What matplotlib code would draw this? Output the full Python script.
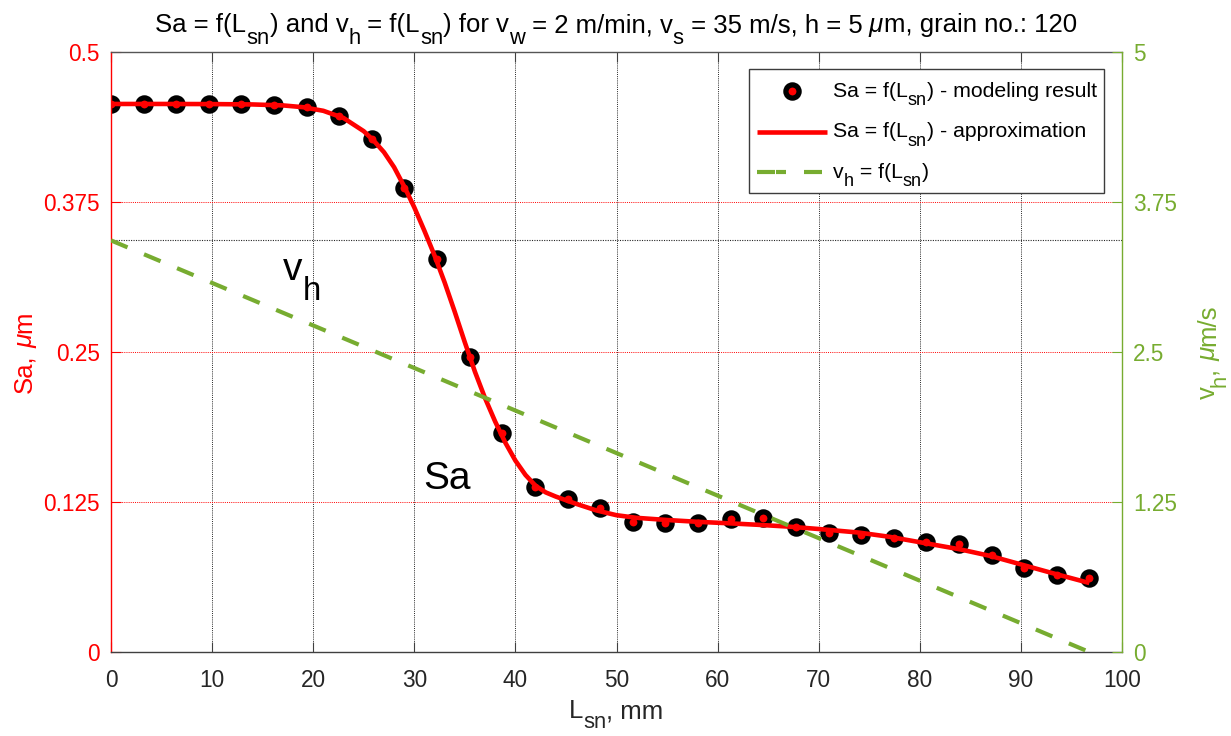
import matplotlib
matplotlib.use("Agg")
import matplotlib.pyplot as plt
from matplotlib.lines import Line2D
from matplotlib.patches import Rectangle
from matplotlib.transforms import IdentityTransform, blended_transform_factory

# ---------------- data ----------------
# modeling results: surface roughness Sa vs. wheel path length L_sn
L_points = [0.0, 3.23, 6.45, 9.68, 12.9, 16.13, 19.35, 22.58, 25.81, 29.03,
            32.26, 35.48, 38.71, 41.94, 45.16, 48.39, 51.61, 54.84, 58.06,
            61.29, 64.52, 67.74, 70.97, 74.19, 77.42, 80.65, 83.87, 87.1,
            90.32, 93.55, 96.77]
Sa_points = [0.4567, 0.4567, 0.4567, 0.4567, 0.4567, 0.4558, 0.4539, 0.4467,
             0.4272, 0.3864, 0.3272, 0.2461, 0.1822, 0.1372, 0.1275, 0.1200,
             0.1086, 0.1078, 0.1072, 0.1108, 0.1114, 0.1039, 0.0994, 0.0975,
             0.0947, 0.0914, 0.0897, 0.0808, 0.0703, 0.0642, 0.0619]

# approximating curve of Sa
L_fit = [0, 5, 10, 14, 17, 19, 21, 23, 25, 26, 27, 28, 29, 30, 31, 32, 33, 34,
         35, 36, 37, 38, 39, 40, 41, 42, 43, 44, 45, 46, 48, 50, 52, 55, 58,
         61, 64, 67, 70, 74, 77, 80, 84, 87, 90, 93, 96.77]
Sa_fit = [0.4567, 0.4567, 0.4566, 0.4563, 0.4555, 0.4540, 0.4510, 0.4450,
          0.4340, 0.4260, 0.4165, 0.4040, 0.3880, 0.3705, 0.3510, 0.3305,
          0.3080, 0.2835, 0.2580, 0.2335, 0.2115, 0.1920, 0.1745, 0.1595,
          0.1475, 0.1385, 0.1330, 0.1295, 0.1265, 0.1235, 0.1180, 0.1140,
          0.1118, 0.1100, 0.1085, 0.1073, 0.1060, 0.1045, 0.1025, 0.0995,
          0.0960, 0.0915, 0.0855, 0.0800, 0.0730, 0.0660, 0.0575]

# feed speed v_h vs. L_sn
L_vh = [0.0, 96.77]
vh = [3.43, 0.0]

x_ticks = [0, 10, 20, 30, 40, 50, 60, 70, 80, 90, 100]
sa_ticks = [0, 0.125, 0.25, 0.375, 0.5]
sa_ticklabels = ["0", "0.125", "0.25", "0.375", "0.5"]
vh_ticks = [0, 1.25, 2.5, 3.75, 5]
vh_ticklabels = ["0", "1.25", "2.5", "3.75", "5"]

# ---------------- style ----------------
FONT = "Liberation Sans"
RED = "#FF0000"
GREEN = "#77AC30"
DARK = "#262626"
SUB_SCALE = 0.85
SUB_DROP = 0.46
TICK_FS = 16.3
LABEL_FS = 18.5
LEGEND_FS = 15.3
NOTE_FS = 28

W, H = 1231, 736
fig = plt.figure(figsize=(W / 100, H / 100), dpi=100)
plt.rcParams["font.family"] = FONT

ax = fig.add_axes([111 / W, (H - 652) / H, (1122 - 111) / W, 600 / H])
ax2 = ax.twinx()

ax.set_xlim(0, 100)
ax.set_ylim(0, 0.5)
ax2.set_ylim(0, 5)

# grid
ax.set_xticks(x_ticks)
ax.set_yticks(sa_ticks)
ax.set_yticklabels(sa_ticklabels)
ax2.set_yticks(vh_ticks)
ax2.set_yticklabels(vh_ticklabels)
ax.grid(axis="x", color=DARK, linestyle=(0, (1, 1.2)), linewidth=0.7)
ax.grid(axis="y", color=RED, linestyle=(0, (1, 1.2)), linewidth=0.7)
ax.set_axisbelow(True)
ref_tr = blended_transform_factory(ax.transAxes, ax2.transData)
ax.plot([0, 1], [vh[0], vh[0]], transform=ref_tr, color=DARK,
        linestyle=(0, (1, 1.2)), linewidth=0.8, zorder=1)

# data
MARKER = dict(linestyle="none", marker="o", markersize=9.5,
              markeredgewidth=3.8, markeredgecolor="black",
              markerfacecolor=RED)
ax.plot(L_points, Sa_points, zorder=2, **MARKER)
ax.plot(L_fit, Sa_fit, color=RED, linewidth=3.3, zorder=3,
        solid_capstyle="butt")
ax2.plot(L_vh, vh, color=GREEN, linewidth=3, linestyle=(0, (4.3, 4.3)),
         dash_capstyle="butt")

# spines and ticks
for s in ("left", "top", "bottom"):
    ax2.spines[s].set_visible(False)
ax.spines["right"].set_visible(False)
ax.spines["left"].set_color(RED)
ax.spines["top"].set_color("#555555")
ax.spines["bottom"].set_color("#404040")
ax2.spines["right"].set_color(GREEN)
for sp in list(ax.spines.values()) + [ax2.spines["right"]]:
    sp.set_linewidth(1.0)

ax.tick_params(axis="x", direction="in", length=7, width=0.8, color="#404040",
               labelcolor=DARK, labelsize=TICK_FS, pad=12, top=True)
ax.tick_params(axis="y", direction="in", length=7, width=0.8, color=RED,
               labelcolor=RED, labelsize=TICK_FS, pad=8)
ax2.tick_params(axis="y", direction="in", length=7, width=0.8, color=GREEN,
                labelcolor=GREEN, labelsize=TICK_FS, pad=8)
for lab in ax.get_xticklabels() + ax.get_yticklabels() + ax2.get_yticklabels():
    lab.set_family(FONT)

renderer = fig.canvas.get_renderer()
PX_PER_PT = fig.dpi / 72


def rich_text(x, y, parts, size, color, ha="left", rotation=0,
              drop_frac=SUB_DROP):
    """Draw text made of pieces; kind 'sub' is lowered, 'it' is italic.
    x, y are pixel coordinates of the baseline anchor (y from bottom)."""
    specs = []
    for s, kind in parts:
        fs = size * SUB_SCALE if kind == "sub" else size
        style = "italic" if kind == "it" else "normal"
        t = fig.text(0, 0, s, fontsize=fs, family=FONT, style=style)
        w = t.get_window_extent(renderer).width
        t.remove()
        specs.append((s, kind, fs, style, w))
    total = sum(sp[4] for sp in specs)
    pos = {"left": 0.0, "center": -total / 2, "right": -total}[ha]
    for s, kind, fs, style, w in specs:
        drop = drop_frac * size * PX_PER_PT if kind == "sub" else 0.0
        if rotation == 0:
            px, py = x + pos, y - drop
        else:
            px, py = x + drop, y + pos
        fig.text(px, py, s, transform=IdentityTransform(), fontsize=fs,
                 family=FONT, style=style, color=color, ha="left",
                 va="baseline", rotation=rotation, rotation_mode="anchor",
                 zorder=7)
        pos += w


def top(y):
    return H - y


# title and axis labels
rich_text(616, top(32), [("Sa = f(L", ""), ("sn", "sub"), (") and v", ""),
                         ("h", "sub"), (" = f(L", ""), ("sn", "sub"),
                         (") for v", ""), ("w", "sub"), (" = 2 m/min, v", ""),
                         ("s", "sub"), (" = 35 m/s, h = 5", ""), (" \u03bc", "it"),
                         ("m, grain no.: 120", "")],
          LABEL_FS, "black", ha="center")
rich_text(616, top(718), [("L", ""), ("sn", "sub"), (", mm", "")], LABEL_FS,
          DARK, ha="center", drop_frac=0.4)
rich_text(31.7, top(352), [("Sa,", ""), (" \u03bc", "it"), ("m", "")],
          LABEL_FS, RED, ha="center", rotation=90)
rich_text(1215, top(352), [("v", ""), ("h", "sub"), (",", ""), (" \u03bc", "it"),
                           ("m/s", "")], LABEL_FS, GREEN, ha="center",
          rotation=90, drop_frac=0.4)

# curve annotations
ax_px = ax.transData.transform((30.9, 0.1358))
rich_text(ax_px[0], ax_px[1], [("Sa", "")], NOTE_FS, "black")
ax_px = ax.transData.transform((17.0, 0.31))
rich_text(ax_px[0], ax_px[1], [("v", ""), ("h", "sub")], NOTE_FS, "black",
          drop_frac=0.52)

# legend
fig.add_artist(Rectangle((749, top(193)), 1104 - 749, 193 - 69,
                         transform=IdentityTransform(), facecolor="white",
                         edgecolor="#3c3c3c", linewidth=1.0, zorder=5))
fig.add_artist(Line2D([792], [top(91)], transform=IdentityTransform(),
                      zorder=6, **MARKER))
fig.add_artist(Line2D([757, 827], [top(131.7)] * 2, transform=IdentityTransform(),
                      color=RED, linewidth=3.3, solid_capstyle="butt", zorder=6))
fig.add_artist(Line2D([757, 822], [top(171.7)] * 2, transform=IdentityTransform(),
                      color=GREEN, linewidth=3,
                      linestyle=(0, (4.32, 0.24, 2.4, 4.32, 4.32)),
                      dash_capstyle="butt", zorder=6))
leg_rows = [
    (96.7, [("Sa = f(L", ""), ("sn", "sub"), (") - modeling result", "")]),
    (137.0, [("Sa = f(L", ""), ("sn", "sub"), (") - approximation", "")]),
    (177.5, [("v", ""), ("h", "sub"), (" = f(L", ""), ("sn", "sub"), (")", "")]),
]
for yb, parts in leg_rows:
    rich_text(833, top(yb), parts, LEGEND_FS, "black", drop_frac=0.4)

fig.savefig("out.png", dpi=100)
